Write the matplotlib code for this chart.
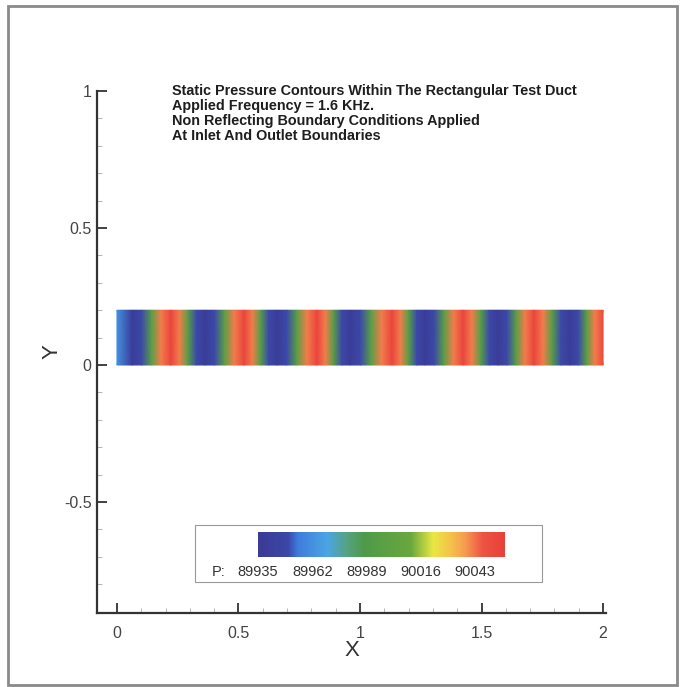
import matplotlib
matplotlib.use("Agg")
import matplotlib.pyplot as plt
import numpy as np
from matplotlib.colors import LinearSegmentedColormap, Normalize
from matplotlib.patches import Rectangle
from matplotlib.ticker import MultipleLocator

plt.rcParams["font.family"] = ["Liberation Sans", "DejaVu Sans"]

W, H = 682, 687

# static pressure read along the duct (x stations, value in Pa)
x_nodes = [
    0.000,
    0.062, 0.102, 0.142, 0.182,
    0.222, 0.257, 0.292, 0.327,
    0.362, 0.402, 0.442, 0.483,
    0.523, 0.557, 0.590, 0.624,
    0.658, 0.699, 0.740, 0.782,
    0.823, 0.857, 0.891, 0.925,
    0.959, 1.002, 1.045, 1.089,
    1.132, 1.166, 1.200, 1.233,
    1.267, 1.306, 1.345, 1.385,
    1.424, 1.460, 1.496, 1.532,
    1.568, 1.605, 1.642, 1.679,
    1.716, 1.753, 1.790, 1.827,
    1.864, 1.898, 1.932, 1.966, 2.000,
]
p_nodes = [
    89962,
    89937, 89950, 89996, 90042,
    90055, 90042, 89996, 89950,
    89937, 89950, 89996, 90042,
    90055, 90042, 89996, 89950,
    89937, 89950, 89996, 90042,
    90055, 90042, 89996, 89950,
    89937, 89950, 89996, 90042,
    90055, 90042, 89996, 89950,
    89937, 89950, 89996, 90042,
    90055, 90042, 89996, 89950,
    89937, 89950, 89996, 90042,
    90055, 90042, 89996, 89950,
    89937, 89950, 89996, 90042, 90052,
]
duct_y = [0.0, 0.2]

legend_levels = [89935, 89962, 89989, 90016, 90043]
p_min, p_max = 89935, 90058

title_lines = [
    "Static Pressure Contours Within The Rectangular Test Duct",
    "Applied Frequency = 1.6 KHz.",
    "Non Reflecting Boundary Conditions Applied",
    "At Inlet And Outlet Boundaries",
]

# tecplot-like rainbow
cmap = LinearSegmentedColormap.from_list("tp", [
    (0.00, "#3a3c96"),
    (0.12, "#3c47a6"),
    (0.16, "#3f7cdc"),
    (0.28, "#4ba6e4"),
    (0.36, "#56a282"),
    (0.43, "#4f9a4a"),
    (0.62, "#6aa83e"),
    (0.71, "#e9e843"),
    (0.78, "#f5c24a"),
    (0.84, "#f69c50"),
    (0.91, "#ee5444"),
    (1.00, "#e8403a"),
])
norm = Normalize(p_min, p_max)


def fx(px):
    return px / W


def fy(py):
    return 1 - py / H


fig = plt.figure(figsize=(W / 100, H / 100), dpi=100)

# outer frame
fig.patches.append(Rectangle((fx(8), fy(685)), fx(677) - fx(8), fy(6) - fy(685),
                             transform=fig.transFigure, fill=False,
                             edgecolor="#8a8a8a", lw=2))

ax = fig.add_axes([fx(97), fy(613), fx(606) - fx(97), fy(91) - fy(613)])
X, Y = np.meshgrid(x_nodes, duct_y)
P = np.array([p_nodes, p_nodes], dtype=float)
ax.pcolormesh(X, Y, P, cmap=cmap, norm=norm, shading="gouraud")

ax.set_xlim(-0.082, 2.012)
ax.set_ylim(-0.905, 1.0)
for s in ("top", "right"):
    ax.spines[s].set_visible(False)
for s in ("left", "bottom"):
    ax.spines[s].set_color("#333333")
    ax.spines[s].set_linewidth(1.6)
ax.set_xticks([0, 0.5, 1, 1.5, 2])
ax.set_xticklabels(["0", "0.5", "1", "1.5", "2"])
ax.set_yticks([-0.5, 0, 0.5, 1])
ax.set_yticklabels(["-0.5", "0", "0.5", "1"])
ax.xaxis.set_minor_locator(MultipleLocator(0.1))
ax.yaxis.set_minor_locator(MultipleLocator(0.1))
ax.tick_params(which="major", direction="in", length=7, width=1.3,
               color="#333333", labelsize=11.5, labelcolor="#444444")
ax.tick_params(axis="x", which="major", pad=9)
ax.tick_params(axis="y", which="major", pad=4)
ax.tick_params(which="minor", direction="in", length=3.5, width=0.6,
               color="#aaaaaa")
ax.set_xlabel("X", fontsize=16, color="#333333", labelpad=0)
ax.set_ylabel("Y", fontsize=16, color="#333333", labelpad=1)

title_y = [91, 106, 121, 136]
for line, ty in zip(title_lines, title_y):
    fig.text(fx(172), fy(ty), line, fontsize=10.4, fontweight="bold",
             color="#1e1e1e", va="center", ha="left")

# contour legend box
fig.patches.append(Rectangle((fx(195), fy(582)), fx(542) - fx(195), fy(525) - fy(582),
                             transform=fig.transFigure, fill=False,
                             edgecolor="#999999", lw=0.8))
cax = fig.add_axes([fx(258), fy(557), fx(505) - fx(258), fy(532) - fy(557)])
grad = np.linspace(p_min, p_max, 256)
cax.imshow(grad[np.newaxis, :], aspect="auto", cmap=cmap, norm=norm,
           extent=[p_min, p_max, 0, 1])
cax.set_axis_off()
for lv in legend_levels:
    fig.text(fx(258) + (lv - p_min) / (p_max - p_min) * (fx(505) - fx(258)),
             fy(572), str(lv), fontsize=10.5, color="#333333",
             ha="center", va="center")
fig.text(fx(212), fy(572), "P:", fontsize=10.5, color="#333333",
         ha="left", va="center")

fig.savefig("out.png", dpi=100)
